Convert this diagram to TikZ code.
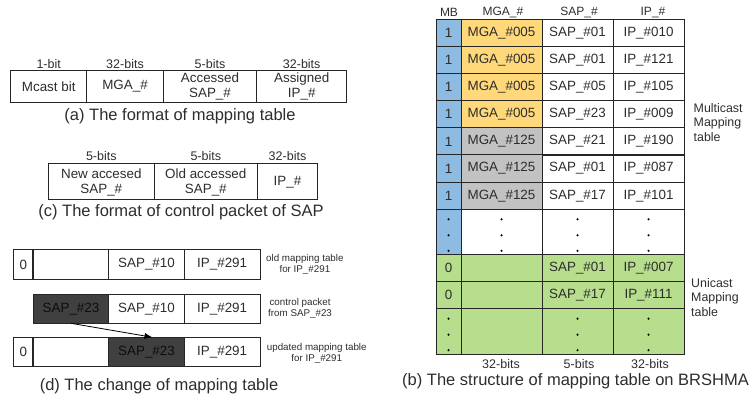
\documentclass[tikz,border=0pt]{standalone}
\usepackage{fontspec}
\setmainfont{Liberation Sans}
\usetikzlibrary{positioning,calc,arrows.meta}

\definecolor{mbblue}{RGB}{141,187,225}
\definecolor{mgayellow}{RGB}{255,216,122}
\definecolor{mgagray}{RGB}{194,194,194}
\definecolor{ucgreen}{RGB}{183,222,140}
\definecolor{darkcell}{RGB}{64,64,64}
\definecolor{inktext}{RGB}{45,45,45}

\tikzset{
  cell/.style={draw=black!85, line width=1pt, inner sep=0pt, outer sep=0pt, text=inktext,
    minimum height=27.15pt, align=center, font=\fontsize{13.4}{15}\selectfont},
  darkbox/.style={fill=darkcell, text=black!95},
  bits/.style={font=\fontsize{12.5}{14}\selectfont, inner sep=0pt, text=inktext},
  hdr/.style={font=\fontsize{12}{14}\selectfont, inner sep=0pt, text=inktext},
  caption/.style={font=\fontsize{16.5}{18}\selectfont, inner sep=0pt, text=inktext},
  note/.style={font=\fontsize{9.8}{10.8}\selectfont, align=center, inner sep=0pt, text=inktext},
  side/.style={font=\fontsize{12.4}{14.3}\selectfont, align=left, inner sep=0pt, anchor=west, text=inktext},
}

\begin{document}
\begin{tikzpicture}[x=1pt, y=-1pt]
\useasboundingbox (0,0) rectangle (753,398);

% (a) format of mapping table
\node[cell, anchor=north west, minimum width=76pt, minimum height=31.3pt] (aMB) at (10.7,71) {Mcast bit};
\node[cell, right=0pt of aMB, minimum width=76.6pt, minimum height=31.3pt] (aMGA) {MGA\_\#};
\node[cell, right=0pt of aMGA, minimum width=93.4pt, minimum height=31.3pt] (aSAP) {Accessed\\SAP\_\#};
\node[cell, right=0pt of aSAP, minimum width=90pt, minimum height=31.3pt] (aIP) {Assigned\\IP\_\#};
\foreach \n/\t in {aMB/1-bit, aMGA/32-bits, aSAP/5-bits, aIP/32-bits}
  \node[bits] (\n-bits) at ($(\n.north)+(0,-6.5)$) {\t};
\node[caption] (capA) at (180,116) {(a) The format of mapping table};

% (c) format of control packet
\node[cell, anchor=north west, minimum width=106pt, minimum height=36pt] (cNew) at (48.3,164) {New accesed\\SAP\_\#};
\node[cell, right=0pt of cNew, minimum width=103pt, minimum height=36pt] (cOld) {Old accessed\\SAP\_\#};
\node[cell, right=0pt of cOld, minimum width=60.4pt, minimum height=36pt] (cIP) {IP\_\#};
\foreach \n/\t in {cNew/5-bits, cOld/5-bits, cIP/32-bits}
  \node[bits] (\n-bits) at ($(\n.north)+(0,-8)$) {\t};
\node[caption] (capC) at (181,212.5) {(c) The format of control packet of SAP};

% (d) change of mapping table
\node[cell, anchor=north west, minimum width=20pt, minimum height=29.3pt] (d1bit) at (13.3,250) {0};
\node[cell, right=0pt of d1bit, minimum width=75.4pt, minimum height=29.3pt] (d1mga) {};
\node[cell, right=0pt of d1mga, minimum width=75.6pt, minimum height=29.3pt] (d1sap) {SAP\_\#10};
\node[cell, right=0pt of d1sap, minimum width=75.7pt, minimum height=29.3pt] (d1ip) {IP\_\#291};

\node[cell, darkbox, anchor=north west, minimum width=75.4pt, minimum height=28.3pt] (d2new) at (33.3,295) {SAP\_\#23};
\node[cell, right=0pt of d2new, minimum width=75.6pt, minimum height=28.3pt] (d2old) {SAP\_\#10};
\node[cell, right=0pt of d2old, minimum width=75.7pt, minimum height=28.3pt] (d2ip) {IP\_\#291};

\node[cell, anchor=north west, minimum width=20pt, minimum height=29.4pt] (d3bit) at (13.3,337.3) {0};
\node[cell, right=0pt of d3bit, minimum width=75.4pt, minimum height=29.4pt] (d3mga) {};
\node[cell, darkbox, right=0pt of d3mga, minimum width=75.6pt, minimum height=29.4pt] (d3sap) {SAP\_\#23};
\node[cell, right=0pt of d3sap, minimum width=75.7pt, minimum height=29.4pt] (d3ip) {IP\_\#291};
\draw[line width=1.8pt, black!85] (d1bit.north east) -- (d1bit.south east);
\draw[line width=1.8pt, black!85] (d3bit.north east) -- (d3bit.south east);

\draw[-{Latex[length=8pt,width=6pt]}, line width=0.8pt] (d2new.south) -- ([xshift=6pt]d3sap.north);

\node[note, anchor=west] (oldNote) at (266,264.7) {old mapping table\\for IP\_\#291};
\node[note, anchor=west] (ctrlNote) at (268,308.7) {control packet\\from SAP\_\#23};
\node[note, anchor=west] (newNote) at (266.7,353.3) {updated mapping table\\for IP\_\#291};
\node[caption] (capD) at (159,386) {(d) The change of mapping table};

% (b) mapping table on BRSHMA
\node[hdr] (hMB) at (449,12.5) {MB};
\node[hdr] (hMGA) at (503,12.5) {MGA\_\#};
\node[hdr] (hSAP) at (579,12.5) {SAP\_\#};
\node[hdr] (hIP) at (653,12.5) {IP\_\#};

\foreach \i/\m/\s/\p/\c in {0/005/01/010/mgayellow, 1/005/01/121/mgayellow,
    2/005/05/105/mgayellow, 3/005/23/009/mgayellow, 4/125/21/190/mgagray,
    5/125/01/087/mgagray, 6/125/17/101/mgagray}{
  \node[cell, anchor=north west, fill=mbblue, minimum width=25pt] (mb\i) at (436,{19.3+27.14*\i}) {1};
  \node[cell, right=0pt of mb\i, fill=\c, minimum width=81pt] (mga\i) {MGA\_\#\m};
  \node[cell, right=0pt of mga\i, minimum width=71pt] (sap\i) {SAP\_\#\s};
  \node[cell, right=0pt of sap\i, minimum width=71pt] (ip\i) {IP\_\#\p};
}
\node[cell, anchor=north west, fill=mbblue, minimum width=25pt, minimum height=45pt] (mb7) at (436,209.3) {};
\node[cell, right=0pt of mb7, minimum width=81pt, minimum height=45pt] (mga7) {};
\node[cell, right=0pt of mga7, minimum width=71pt, minimum height=45pt] (sap7) {};
\node[cell, right=0pt of sap7, minimum width=71pt, minimum height=45pt] (ip7) {};

\foreach \i/\s/\p in {8/01/007, 9/17/111}{
  \node[cell, anchor=north west, fill=ucgreen, minimum width=25pt] (mb\i) at (436,{254.3+27.2*(\i-8)}) {0};
  \node[cell, right=0pt of mb\i, fill=ucgreen, minimum width=81pt] (mga\i) {};
  \node[cell, right=0pt of mga\i, fill=ucgreen, minimum width=71pt] (sap\i) {SAP\_\#\s};
  \node[cell, right=0pt of sap\i, fill=ucgreen, minimum width=71pt] (ip\i) {IP\_\#\p};
}
\node[cell, anchor=north west, fill=ucgreen, minimum width=25pt, minimum height=45.6pt] (mb10) at (436,308.7) {};
\node[cell, right=0pt of mb10, fill=ucgreen, minimum width=81pt, minimum height=45.6pt] (mga10) {};
\node[cell, right=0pt of mga10, fill=ucgreen, minimum width=71pt, minimum height=45.6pt] (sap10) {};
\node[cell, right=0pt of sap10, fill=ucgreen, minimum width=71pt, minimum height=45.6pt] (ip10) {};

% vertical dots
\foreach \n in {mb7,mga7,sap7,ip7,mb10,sap10,ip10}
  \foreach \d in {10,26,41.5}
    \fill (\n.north) ++(0,\d) circle (1.2pt);

\node[bits] (bMGA) at (501,364) {32-bits};
\node[bits] (bSAP) at (579,364) {5-bits};
\node[bits] (bIP) at (650,364) {32-bits};

\node[side] (multiNote) at (693.5,122.3) {Multicast\\Mapping\\table};
\node[side] (uniNote) at (691,297.5) {Unicast\\Mapping\\table};
\node[caption, anchor=west] (capB) at (402,381) {(b) The structure of mapping table on BRSHMA};

\end{tikzpicture}
\end{document}
